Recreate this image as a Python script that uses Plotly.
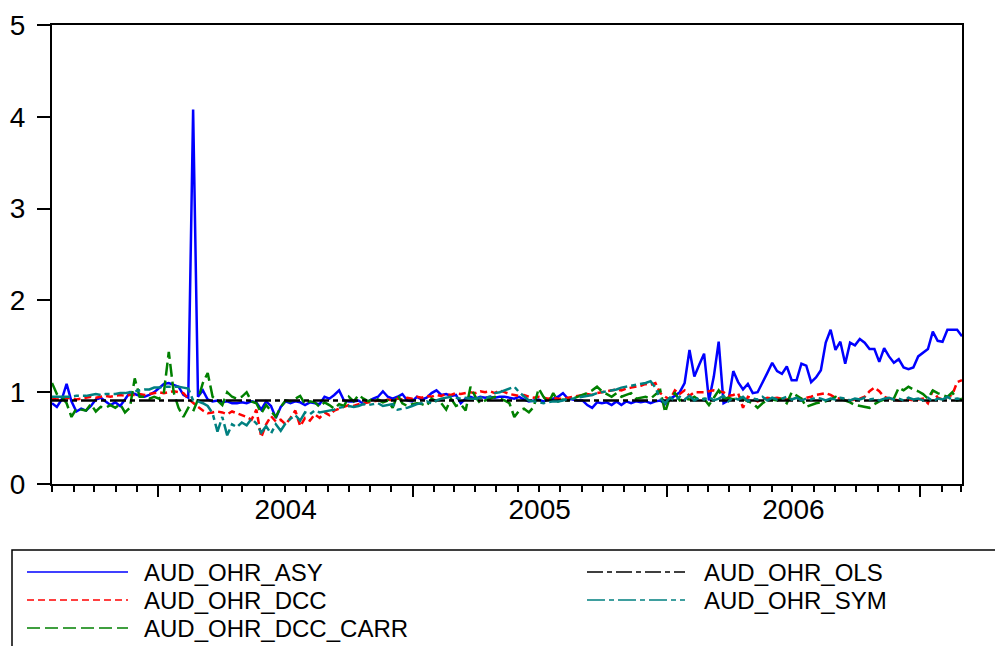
import pandas as pd
import plotly.graph_objects as go

# Weekly optimal hedge ratios, AUD
dates = pd.date_range("2003-08-01", periods=188, freq="7D")

aud_ohr_asy = [
    0.88, 0.84, 0.92, 1.09, 0.90, 0.79, 0.82, 0.80, 0.85, 0.92,
    0.94, 0.90, 0.86, 0.89, 0.85, 0.92, 1.00, 0.98, 0.96, 0.95,
    0.97, 1.00, 1.05, 1.09, 1.10, 1.08, 1.06, 0.97, 0.94, 4.08,
    0.95, 1.02, 0.92, 0.90, 0.91, 0.89, 0.90, 0.88, 0.88, 0.89,
    0.88, 0.90, 0.89, 0.81, 0.90, 0.85, 0.72, 0.84, 0.90, 0.88,
    0.90, 0.89, 0.86, 0.89, 0.88, 0.87, 0.95, 0.93, 0.97, 1.02,
    0.91, 0.90, 0.90, 0.91, 0.87, 0.90, 0.93, 0.95, 1.01, 0.95,
    0.93, 0.95, 0.98, 0.91, 0.90, 0.95, 0.92, 0.94, 0.99, 1.02,
    0.97, 0.98, 0.96, 0.97, 0.88, 0.93, 0.95, 0.93, 0.95, 0.94,
    0.95, 0.94, 0.95, 0.95, 0.94, 0.93, 0.95, 0.92, 0.90, 0.91,
    0.92, 0.90, 0.92, 0.93, 0.95, 0.99, 0.93, 0.92, 0.91, 0.91,
    0.86, 0.83, 0.89, 0.88, 0.89, 0.86, 0.90, 0.86, 0.90, 0.88,
    0.90, 0.89, 0.90, 0.88, 0.90, 0.91, 0.87, 0.93, 0.96, 1.00,
    1.10, 1.46, 1.17, 1.30, 1.42, 0.91, 1.17, 1.55, 0.88, 0.91,
    1.23, 1.11, 1.03, 1.09, 0.99, 1.00, 1.10, 1.21, 1.32, 1.23,
    1.20, 1.28, 1.13, 1.13, 1.31, 1.29, 1.11, 1.16, 1.24, 1.54,
    1.68, 1.46, 1.55, 1.31, 1.54, 1.51, 1.58, 1.54, 1.47, 1.47,
    1.33, 1.48, 1.39, 1.32, 1.36, 1.27, 1.25, 1.27, 1.39, 1.43,
    1.47, 1.66, 1.56, 1.55, 1.68, 1.68, 1.68, 1.61,
]

aud_ohr_dcc = [
    0.93, 0.92, 0.93, 0.94, 0.93, 0.92, 0.93, 0.94, 0.95, 0.94,
    0.95, 0.96, 0.95, 0.96, 0.97, 0.96, 0.97, 0.97, 0.98, 0.97,
    0.98, 0.99, 1.00, 0.99, 1.00, 1.01, 1.00, 0.99, 0.93, 0.88,
    0.84, 0.80, 0.77, 0.78, 0.79, 0.78, 0.76, 0.79, 0.77, 0.75,
    0.73, 0.70, 0.81, 0.51, 0.65, 0.74, 0.68, 0.70, 0.65, 0.72,
    0.80, 0.63, 0.72, 0.69, 0.76, 0.72, 0.78, 0.75, 0.80, 0.82,
    0.84, 0.86, 0.85, 0.87, 0.88, 0.89, 0.90, 0.91, 0.90, 0.92,
    0.91, 0.93, 0.92, 0.94, 0.93, 0.95, 0.94, 0.96, 0.95, 0.97,
    0.96, 0.98, 0.97, 0.99, 0.98, 0.99, 1.00, 0.99, 1.01, 1.00,
    1.01, 0.99, 1.02, 1.00, 0.98, 0.97, 0.96, 0.97, 0.95, 0.94,
    0.95, 0.94, 0.93, 0.94, 0.93, 0.93, 0.94, 0.95, 0.96, 0.97,
    0.98, 0.97, 0.99, 1.00, 1.01, 1.02, 1.03, 1.02, 1.04, 1.05,
    1.06, 1.07, 1.09, 1.08, 1.10, 0.99, 0.95, 0.92, 1.02, 0.98,
    1.02, 0.96, 1.00, 1.00, 1.00, 1.01, 1.02, 1.01, 1.00, 0.96,
    0.97, 0.99, 0.83, 0.95, 0.93, 0.90, 0.92, 0.94, 0.93, 0.94,
    0.93, 0.92, 0.93, 0.94, 0.93, 0.94, 0.95, 0.97, 0.98, 0.99,
    0.97, 0.94, 0.93, 0.92, 0.91, 0.92, 0.93, 0.95, 1.01, 1.05,
    1.01, 0.95, 0.93, 0.92, 0.91, 0.91, 0.92, 0.91, 0.92, 0.93,
    0.88, 1.02, 0.94, 0.92, 0.95, 0.97, 1.11, 1.13,
]

aud_ohr_dcc_carr = [
    1.10, 0.98, 0.95, 0.88, 0.73, 0.82, 0.81, 0.80, 0.87, 0.79,
    0.84, 0.83, 0.86, 0.83, 0.87, 0.78, 0.83, 1.15, 0.95, 0.95,
    0.93, 0.95, 0.93, 1.00, 1.44, 1.00, 0.83, 0.73, 0.83, 0.79,
    0.92, 1.10, 1.21, 0.95, 0.91, 0.86, 1.00, 0.95, 0.93, 0.95,
    1.00, 0.90, 0.88, 0.77, 0.86, 0.80, 0.73, 0.84, 0.91, 0.90,
    0.93, 0.96, 0.87, 0.90, 0.89, 0.84, 0.89, 0.86, 0.82, 0.87,
    0.85, 0.95, 0.90, 0.97, 0.93, 0.90, 0.93, 0.92, 0.89, 0.91,
    0.83, 0.97, 0.88, 0.85, 0.87, 0.88, 0.87, 0.85, 0.93, 0.90,
    0.88, 0.81, 0.93, 0.85, 0.87, 0.80, 1.06, 0.95, 0.88, 0.91,
    0.93, 0.95, 0.93, 0.91, 0.88, 0.73, 0.80, 0.82, 0.78, 0.84,
    1.04, 0.95, 0.88, 0.99, 0.90, 0.92, 0.91, 0.93, 0.95, 0.97,
    0.99, 1.02, 1.06, 1.01, 0.98, 0.95, 0.99, 0.95, 0.97, 0.99,
    0.93, 0.94, 0.95, 0.93, 0.97, 1.02, 0.78, 0.95, 0.99, 0.91,
    0.93, 0.92, 0.95, 0.91, 0.93, 0.86, 0.94, 1.02, 0.93, 0.94,
    0.92, 0.95, 0.93, 0.90, 0.88, 0.83, 0.88, 0.91, 0.92, 0.91,
    0.93, 0.88, 1.00, 0.96, 0.93, 0.84, 0.86, 0.88, 0.89, 0.90,
    0.92, 0.95, 0.93, 0.91, 0.89, 0.86, 0.85, 0.84, 0.83, 0.87,
    0.90, 0.92, 0.91, 0.93, 1.05, 1.02, 1.06, 1.03, 1.01, 0.98,
    0.93, 1.02, 0.99, 0.97, 0.95, 1.00, 0.91, 0.93,
]

# static OLS hedge ratio
ols_ratio = 0.91
aud_ohr_ols = [ols_ratio] * len(dates)

aud_ohr_sym = [
    0.95, 0.95, 0.95, 0.95, 0.95, 0.96, 0.96, 0.96, 0.97, 0.98,
    0.97, 0.98, 0.98, 0.98, 0.99, 0.99, 1.00, 1.01, 1.02, 1.03,
    1.03, 1.05, 1.05, 1.06, 1.06, 1.06, 1.06, 1.05, 1.04, 0.91,
    0.90, 0.88, 0.85, 0.77, 0.57, 0.73, 0.53, 0.65, 0.62, 0.67,
    0.64, 0.71, 0.66, 0.56, 0.63, 0.55, 0.65, 0.58, 0.66, 0.71,
    0.75, 0.69, 0.78, 0.76, 0.80, 0.78, 0.79, 0.80, 0.81, 0.83,
    0.84, 0.85, 0.84, 0.85, 0.87, 0.86, 0.87, 0.88, 0.85, 0.86,
    0.87, 0.81, 0.82, 0.83, 0.85, 0.87, 0.88, 0.90, 0.88, 0.91,
    0.93, 0.94, 0.95, 0.94, 0.93, 0.94, 0.93, 0.93, 0.94, 0.94,
    0.95, 0.99, 1.00, 1.02, 1.04, 1.06, 1.00, 0.95, 0.91, 0.90,
    0.89, 0.88, 0.89, 0.90, 0.90, 0.91, 0.93, 0.93, 0.94, 0.95,
    0.96, 0.97, 0.99, 1.00, 1.01, 1.02, 1.03, 1.05, 1.06, 1.07,
    1.08, 1.09, 1.10, 1.12, 1.05, 0.93, 0.88, 0.94, 0.91, 0.95,
    0.92, 0.96, 0.91, 0.94, 0.92, 0.95, 0.91, 0.93, 0.96, 0.90,
    0.94, 0.92, 0.95, 0.90, 0.93, 0.92, 0.95, 0.91, 0.94, 0.92,
    0.93, 0.95, 0.92, 0.94, 0.91, 0.93, 0.92, 0.94, 0.93, 0.91,
    0.93, 0.92, 0.94, 0.93, 0.91, 0.93, 0.92, 0.94, 0.92, 0.93,
    0.91, 0.93, 0.94, 0.92, 0.93, 0.91, 0.94, 0.92, 0.93, 0.91,
    0.94, 0.90, 0.93, 0.92, 0.95, 0.92, 0.93, 0.92,
]

y_ticks = [0, 1, 2, 3, 4, 5]

# name, values, colour, dash pattern, legend column, legend row
series = [
    ("AUD_OHR_ASY", aud_ohr_asy, "#0000FF", "solid", 0, 0),
    ("AUD_OHR_DCC", aud_ohr_dcc, "#FF0000", "7px,4px", 0, 1),
    ("AUD_OHR_DCC_CARR", aud_ohr_dcc_carr, "#008000", "13px,5px", 0, 2),
    ("AUD_OHR_OLS", aud_ohr_ols, "#000000", "16px,4px,5px,4px", 1, 0),
    ("AUD_OHR_SYM", aud_ohr_sym, "#008080", "18px,4px,5px,4px", 1, 1),
]

W, H = 995, 646
ML, MR, MT, MB = 52, 33, 25, 162
PW, PH = W - ML - MR, H - MT - MB
FONT = "Liberation Sans, Arial, Helvetica, sans-serif"


def px(x):
    return (x - ML) / PW


def py(y):
    return (H - MB - y) / PH


fig = go.Figure()
for name, vals, color, dash, _, _ in series:
    fig.add_trace(go.Scatter(
        x=dates, y=vals, name=name, mode="lines",
        line=dict(color=color, width=2.5, dash=dash),
        showlegend=False,
    ))

# legend panel below the plot
shapes = [dict(type="rect", xref="paper", yref="paper",
               x0=px(12), x1=px(1010), y0=py(665), y1=py(550),
               line=dict(color="black", width=1.5), fillcolor="rgba(0,0,0,0)")]
annotations = []
col_line = [(27, 128), (587, 685)]
col_text = [143, 703]
row_y = [572, 600, 628]
for name, _, color, dash, col, row in series:
    x0, x1 = col_line[col]
    shapes.append(dict(type="line", xref="paper", yref="paper",
                       x0=px(x0), x1=px(x1), y0=py(row_y[row]), y1=py(row_y[row]),
                       line=dict(color=color, width=1.5, dash=dash)))
    annotations.append(dict(xref="paper", yref="paper", x=px(col_text[col]), y=py(row_y[row]),
                            xanchor="left", yanchor="middle", showarrow=False, text=name,
                            borderpad=0,
                            font=dict(family=FONT, size=24, color="black")))

fig.update_layout(
    width=W, height=H,
    margin=dict(l=ML, r=MR, t=MT, b=MB, autoexpand=False),
    paper_bgcolor="white", plot_bgcolor="white",
    shapes=shapes, annotations=annotations,
    xaxis=dict(
        type="date", range=[dates[0], dates[-1]],
        showgrid=False, zeroline=False,
        showline=True, linecolor="black", linewidth=2, mirror=True,
        ticks="outside", ticklen=11, tickwidth=1.5, tickcolor="black",
        dtick="M12", tick0="2004-01-01", tickformat="%Y", ticklabelmode="period",
        ticklabelstandoff=-12,
        tickfont=dict(family=FONT, size=28, color="black"),
        minor=dict(dtick="M1", tick0="2004-01-01", ticks="outside", ticklen=6,
                   tickwidth=1.5, tickcolor="black", showgrid=False),
    ),
    yaxis=dict(
        range=[0, 5], tickvals=y_ticks,
        showgrid=False, zeroline=False,
        showline=True, linecolor="black", linewidth=2, mirror=True,
        ticks="outside", ticklen=13, tickwidth=1.5, tickcolor="black",
        ticklabelstandoff=6,
        tickfont=dict(family=FONT, size=28, color="black"),
    ),
)

fig.write_html("out.html")
